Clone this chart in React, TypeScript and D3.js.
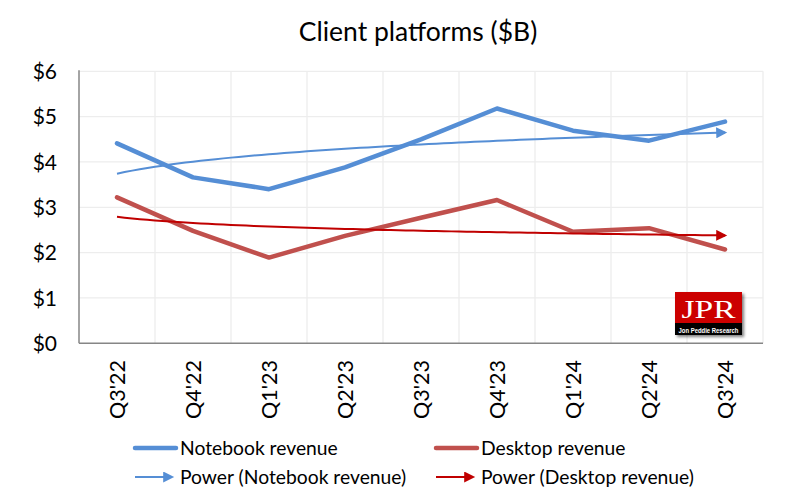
import React from "react";
import * as d3 from "d3";

const categories = ["Q3'22", "Q4'22", "Q1'23", "Q2'23", "Q3'23", "Q4'23", "Q1'24", "Q2'24", "Q3'24"];
const notebookRevenue = [4.41, 3.66, 3.4, 3.88, 4.5, 5.18, 4.69, 4.47, 4.89];
const desktopRevenue = [3.22, 2.48, 1.89, 2.37, 2.77, 3.16, 2.46, 2.54, 2.07];
const yTicks = [0, 1, 2, 3, 4, 5, 6];
const title = "Client platforms ($B)";
const seriesNames = ["Notebook revenue", "Desktop revenue", "Power (Notebook revenue)", "Power (Desktop revenue)"];

const W = 795, H = 492;
const M = { left: 79, right: 763, top: 71.3, bottom: 343.3 };
const FONT = "Lato, 'Open Sans', sans-serif";
const C_NB = "#558ED5";
const C_DT = "#C0504D";
const C_PNB = "#558ED5";
const C_PDT = "#C00000";

function powerFit(vals: number[]) {
  const xs = vals.map((_, i) => Math.log(i + 1));
  const ys = vals.map((v) => Math.log(v));
  const mx = d3.mean(xs)!, my = d3.mean(ys)!;
  let sxy = 0, sxx = 0;
  xs.forEach((x, i) => { sxy += (x - mx) * (ys[i] - my); sxx += (x - mx) ** 2; });
  const b = sxy / sxx;
  const a = Math.exp(my - b * mx);
  return (x: number) => a * Math.pow(x, b);
}

export default function App() {
  const x = d3.scaleBand<string>().domain(categories).range([M.left, M.right]);
  const y = d3.scaleLinear().domain([0, 6]).range([M.bottom, M.top]);
  const cx = (i: number) => x(categories[i])! + x.bandwidth() / 2;
  const line = d3.line<number>().x((_, i) => cx(i)).y((d) => y(d));

  const trend = (vals: number[]) => {
    const f = powerFit(vals);
    const n = vals.length;
    const pts: [number, number][] = d3.range(0, 81).map((k) => {
      const t = 1 + ((n - 1) * k) / 80;
      const px = cx(0) + (cx(n - 1) - cx(0)) * ((t - 1) / (n - 1));
      return [px, y(f(t))];
    });
    return d3.line()(pts)!;
  };

  const gridX = d3.range(categories.length + 1).map((i) => M.left + i * x.bandwidth());

  return (
    <svg width={W} height={H} style={{ position: "absolute", left: 0, top: 0, background: "#fff" }} fontFamily={FONT}>
      <defs>
        <marker id="arrB" viewBox="0 0 10 10" refX="8" refY="5" markerWidth="6" markerHeight="5.5" orient="auto" markerUnits="strokeWidth">
          <path d="M0,0 L10,5 L0,10 z" fill={C_PNB} />
        </marker>
        <marker id="arrR" viewBox="0 0 10 10" refX="8" refY="5" markerWidth="6" markerHeight="5.5" orient="auto" markerUnits="strokeWidth">
          <path d="M0,0 L10,5 L0,10 z" fill={C_PDT} />
        </marker>
        <filter id="sh" x="-20%" y="-20%" width="150%" height="150%">
          <feDropShadow dx="2" dy="2" stdDeviation="1.5" floodColor="#000" floodOpacity="0.5" />
        </filter>
      </defs>
      <rect width={W} height={H} fill="#fff" />
      <text x={418} y={41} textAnchor="middle" fontSize={26.5} fill="#000">{title}</text>

      {/* gridlines */}
      {yTicks.filter((t) => t > 0).map((t) => (
        <line key={"gy" + t} x1={M.left} x2={M.right} y1={y(t)} y2={y(t)} stroke="#EDEDED" strokeWidth={1.3} />
      ))}
      {gridX.slice(1).map((gx, i) => (
        <line key={"gx" + i} x1={gx} x2={gx} y1={M.top} y2={M.bottom} stroke="#EDEDED" strokeWidth={1.3} />
      ))}

      {/* y labels */}
      {yTicks.map((t) => (
        <text key={"yl" + t} x={57} y={y(t)} dy="0.36em" textAnchor="end" fontSize={21} fill="#000">${t}</text>
      ))}

      {/* x labels */}
      {categories.map((c, i) => (
        <text key={c} transform={`translate(${cx(i) + 8},360) rotate(-90)`} textAnchor="end" fontSize={21.5} fill="#000">{c}</text>
      ))}

      {/* series */}
      <path d={line(notebookRevenue)!} fill="none" stroke={C_NB} strokeWidth={4.5} strokeLinejoin="round" strokeLinecap="round" />
      <path d={line(desktopRevenue)!} fill="none" stroke={C_DT} strokeWidth={4.5} strokeLinejoin="round" strokeLinecap="round" />
      <path d={trend(notebookRevenue)} fill="none" stroke={C_PNB} strokeWidth={2} markerEnd="url(#arrB)" />
      <path d={trend(desktopRevenue)} fill="none" stroke={C_PDT} strokeWidth={2} markerEnd="url(#arrR)" />

      {/* axes */}
      <line x1={M.left} x2={M.left} y1={M.top - 1} y2={M.bottom} stroke="#868686" strokeWidth={1.5} />
      <line x1={M.left} x2={M.right} y1={M.bottom} y2={M.bottom} stroke="#868686" strokeWidth={1.5} />

      {/* JPR logo */}
      <g filter="url(#sh)">
        <rect x={675} y={292} width={67} height={31} fill="#CC0000" />
        <rect x={675} y={323} width={67} height={12} fill="#000" />
      </g>
      <text x={708.5} y={318} textAnchor="middle" fontSize={26} fontFamily="'Liberation Serif', 'DejaVu Serif', serif" fill="#fff" textLength={54} lengthAdjust="spacingAndGlyphs">JPR</text>
      <text x={708.5} y={332.5} textAnchor="middle" fontSize={7} fontWeight="bold" fontFamily="'Liberation Sans Narrow', 'Liberation Sans', sans-serif" fill="#fff" textLength={60} lengthAdjust="spacingAndGlyphs">Jon Peddie Research</text>

      {/* legend */}
      <g fontSize={19.3} fill="#000">
        <line x1={135} x2={176} y1={448} y2={448} stroke={C_NB} strokeWidth={4.5} strokeLinecap="round" />
        <text x={180} y={448} dy="0.36em">{seriesNames[0]}</text>
        <line x1={436} x2={477} y1={448} y2={448} stroke={C_DT} strokeWidth={4.5} strokeLinecap="round" />
        <text x={481} y={448} dy="0.36em">{seriesNames[1]}</text>
        <line x1={135} x2={172} y1={477} y2={477} stroke={C_PNB} strokeWidth={2} markerEnd="url(#arrB)" />
        <text x={180} y={477} dy="0.36em">{seriesNames[2]}</text>
        <line x1={436} x2={473} y1={477} y2={477} stroke={C_PDT} strokeWidth={2} markerEnd="url(#arrR)" />
        <text x={481} y={477} dy="0.36em">{seriesNames[3]}</text>
      </g>
    </svg>
  );
}
